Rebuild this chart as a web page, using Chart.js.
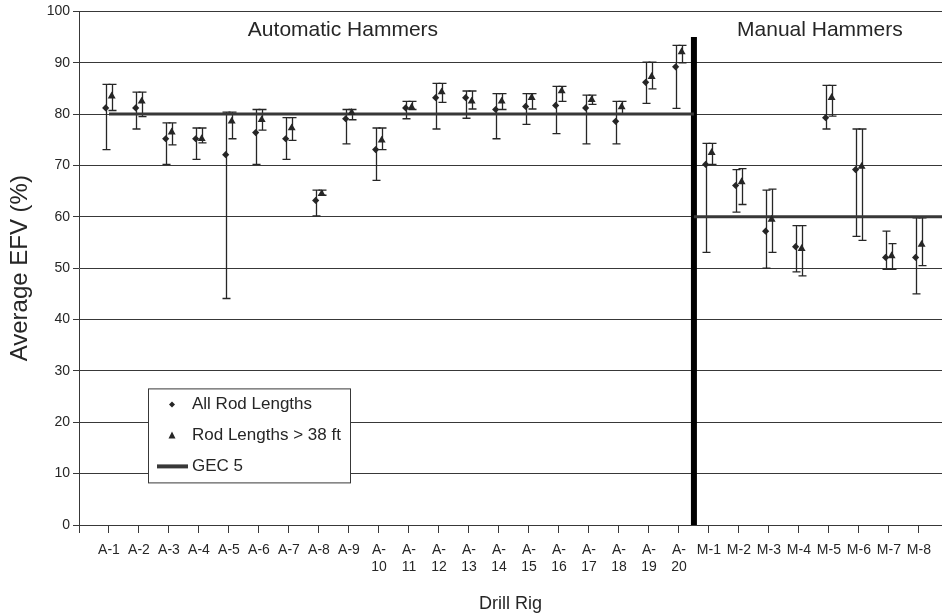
<!DOCTYPE html>
<html lang="en">
<head>
<meta charset="UTF-8">
<title>Average EFV by Drill Rig</title>
<script src="https://cdn.jsdelivr.net/npm/chart.js"></script>
<style>
  html, body { margin: 0; padding: 0; background: #fff; overflow: hidden; }
  #wrap { width: 942px; height: 615px; }
</style>
</head>
<body>
<div id="wrap"><canvas id="efvChart"></canvas></div>
<script>
// drill rigs, automatic hammers first, then manual
const rigs = ['A-1', 'A-2', 'A-3', 'A-4', 'A-5', 'A-6', 'A-7', 'A-8', 'A-9', 'A-10',
  'A-11', 'A-12', 'A-13', 'A-14', 'A-15', 'A-16', 'A-17', 'A-18', 'A-19', 'A-20',
  'M-1', 'M-2', 'M-3', 'M-4', 'M-5', 'M-6', 'M-7', 'M-8'];

// all rod lengths: mean EFV with high / low range
const allRodMean = [81.2, 81.2, 75.2, 75.2, 72.1, 76.4, 75.2, 63.2, 79.1, 73.1,
  81.2, 83.2, 83.2, 80.9, 81.5, 81.7, 81.2, 78.6, 86.2, 89.2,
  70.2, 66.1, 57.2, 54.2, 79.3, 69.2, 52.1, 52.1];
const allRodHigh = [85.8, 84.3, 78.3, 77.3, 80.4, 80.9, 79.3, 65.2, 80.9, 77.3,
  82.5, 86.0, 84.5, 84.0, 84.0, 85.4, 83.7, 82.5, 90.1, 93.4,
  74.3, 69.2, 65.2, 58.3, 85.6, 77.1, 57.2, 59.8];
const allRodLow = [73.1, 77.1, 70.2, 71.2, 44.1, 70.2, 71.2, 60.2, 74.2, 67.1,
  79.1, 77.1, 79.2, 75.2, 78.0, 76.2, 74.2, 74.2, 82.1, 81.1,
  53.1, 60.9, 50.0, 49.3, 77.1, 56.2, 49.8, 45.0];

// rod lengths > 38 ft
const longRodMean = [83.5, 82.5, 76.5, 75.2, 78.6, 78.9, 77.3, 64.5, 80.3, 74.9,
  81.3, 84.3, 82.5, 82.5, 83.2, 84.5, 82.8, 81.4, 87.3, 92.1,
  72.5, 66.8, 59.5, 53.8, 83.2, 69.8, 52.4, 54.6];
const longRodHigh = [85.8, 84.3, 78.3, 77.3, 80.4, 80.9, 79.3, 65.2, 80.9, 77.3,
  82.5, 86.0, 84.5, 84.0, 84.0, 85.4, 83.7, 82.5, 90.1, 93.4,
  74.3, 69.4, 65.4, 58.3, 85.6, 77.1, 54.8, 59.8];
const longRodLow = [80.7, 79.5, 74.0, 74.4, 75.2, 76.9, 74.9, 64.2, 78.9, 73.1,
  80.9, 82.3, 81.0, 80.9, 81.0, 82.5, 81.9, 80.1, 84.9, 90.0,
  70.2, 62.4, 53.1, 48.5, 79.6, 55.4, 49.8, 50.5];

// GEC 5 reference level for each hammer type
const gecAutomatic = 80;
const gecManual = 60;

const yTicks = [0, 10, 20, 30, 40, 50, 60, 70, 80, 90, 100];

const FONT = "'Liberation Sans', Arial, sans-serif";
const INK = '#262626';
const LINE = '#383838';
const X_MAX = 28.77;
const DOT_DX = -0.11;
const TRI_DX = 0.09;
const nAuto = rigs.filter(r => r.startsWith('A')).length;
const split = nAuto + 0.5;

const pts = (vals, dx) => vals.map((v, i) => ({ x: i + 1 + dx, y: v }));

// whiskers with caps, drawn under the markers
const errorBars = {
  id: 'errorBars',
  beforeDatasetsDraw(chart) {
    const { ctx, scales: { x, y } } = chart;
    ctx.save();
    ctx.strokeStyle = INK;
    ctx.lineWidth = 1.3;
    [[allRodHigh, allRodLow, DOT_DX], [longRodHigh, longRodLow, TRI_DX]].forEach(([hi, lo, dx]) => {
      hi.forEach((h, i) => {
        const px = Math.round(x.getPixelForValue(i + 1 + dx)) + 0.5;
        const top = y.getPixelForValue(h);
        const bot = y.getPixelForValue(lo[i]);
        ctx.beginPath();
        ctx.moveTo(px, top); ctx.lineTo(px, bot);
        ctx.moveTo(px - 4, top); ctx.lineTo(px + 4, top);
        ctx.moveTo(px - 4, bot); ctx.lineTo(px + 4, bot);
        ctx.stroke();
      });
    });
    ctx.restore();
  }
};

// group headings and the boxed legend
const annotations = {
  id: 'annotations',
  afterDraw(chart) {
    const { ctx, chartArea: ca, scales: { x, y } } = chart;
    const ds = chart.data.datasets;
    ctx.save();
    ctx.fillStyle = INK;
    ctx.textBaseline = 'middle';
    ctx.textAlign = 'center';
    ctx.font = '21px ' + FONT;
    ctx.fillText('Automatic Hammers', x.getPixelForValue(8.8), y.getPixelForValue(96.3));
    ctx.fillText('Manual Hammers', x.getPixelForValue(24.7), y.getPixelForValue(96.3));

    const bx = ca.left + 69, by = ca.top + 377, bw = 202, bh = 94;
    ctx.fillStyle = '#fff';
    ctx.fillRect(bx, by, bw, bh);
    ctx.strokeStyle = LINE;
    ctx.lineWidth = 1;
    ctx.strokeRect(bx + 0.5, by + 0.5, bw, bh);

    const mx = bx + 24, tx = bx + 44;
    const rows = [by + 16, by + 47, by + 78];
    ctx.fillStyle = INK;
    // diamond
    ctx.beginPath();
    ctx.moveTo(mx, rows[0] - 3); ctx.lineTo(mx + 3, rows[0]);
    ctx.lineTo(mx, rows[0] + 3); ctx.lineTo(mx - 3, rows[0]);
    ctx.closePath(); ctx.fill();
    // triangle
    ctx.beginPath();
    ctx.moveTo(mx, rows[1] - 4); ctx.lineTo(mx + 3.5, rows[1] + 3);
    ctx.lineTo(mx - 3.5, rows[1] + 3);
    ctx.closePath(); ctx.fill();
    // line
    ctx.strokeStyle = LINE;
    ctx.lineWidth = 4;
    ctx.beginPath();
    ctx.moveTo(bx + 9, rows[2]); ctx.lineTo(bx + 40, rows[2]);
    ctx.stroke();

    ctx.textAlign = 'left';
    ctx.font = '17px ' + FONT;
    ctx.fillText(ds[0].label, tx, rows[0]);
    ctx.fillText(ds[1].label, tx, rows[1]);
    ctx.fillText(ds[2].label, tx, rows[2]);
    ctx.restore();
  }
};

new Chart(document.getElementById('efvChart'), {
  type: 'scatter',
  data: {
    datasets: [
      {
        label: 'All Rod Lengths',
        data: pts(allRodMean, DOT_DX),
        pointStyle: 'rectRot',
        pointRadius: 3.6,
        backgroundColor: INK,
        borderColor: INK,
        borderWidth: 0
      },
      {
        label: 'Rod Lengths > 38 ft',
        data: pts(longRodMean, TRI_DX),
        pointStyle: 'triangle',
        pointRadius: 4.6,
        backgroundColor: INK,
        borderColor: INK,
        borderWidth: 0
      },
      {
        label: 'GEC 5',
        data: [
          { x: 1, y: gecAutomatic }, { x: split, y: gecAutomatic },
          { x: split, y: null },
          { x: split, y: gecManual }, { x: X_MAX, y: gecManual }
        ],
        showLine: true,
        spanGaps: false,
        borderColor: LINE,
        borderWidth: 3,
        pointRadius: 0
      },
      {
        label: 'Hammer type divider',
        data: [{ x: split, y: 0 }, { x: split, y: 95 }],
        showLine: true,
        borderColor: '#000',
        borderWidth: 6,
        pointRadius: 0
      }
    ]
  },
  options: {
    responsive: true,
    maintainAspectRatio: false,
    animation: false,
    layout: { autoPadding: false, padding: { top: 11, right: 0, bottom: 0, left: 0 } },
    plugins: { legend: { display: false }, tooltip: { enabled: false } },
    scales: {
      x: {
        type: 'linear',
        min: 0,
        max: X_MAX,
        afterBuildTicks(s) {
          s.ticks = [{ value: 0 }].concat(rigs.map((r, i) => ({ value: i + 1 })));
        },
        ticks: {
          autoSkip: false,
          maxRotation: 0,
          minRotation: 0,
          color: INK,
          padding: 9,
          font: { family: FONT, size: 14 },
          callback(v) {
            const r = rigs[v - 1];
            if (!r) return '';
            return /^A-\d\d$/.test(r) ? ['A-', r.slice(2)] : r;
          }
        },
        grid: { drawOnChartArea: false, tickLength: 8, tickColor: LINE },
        border: { color: LINE, width: 1 },
        title: {
          display: true,
          text: 'Drill Rig',
          color: INK,
          font: { family: FONT, size: 18 },
          padding: { top: 0, bottom: 0 }
        },
        // gridlines run to the right edge of the canvas
        afterFit(s) { s.height = 90; s.paddingLeft = 0; s.paddingRight = 0; }
      },
      y: {
        min: 0,
        max: 100,
        afterBuildTicks(s) { s.ticks = yTicks.map(v => ({ value: v })); },
        ticks: { color: INK, padding: 3, font: { family: FONT, size: 14 } },
        grid: { color: LINE, lineWidth: 1, tickLength: 6, tickColor: LINE },
        border: { color: LINE, width: 1 },
        title: {
          display: true,
          text: 'Average EFV (%)',
          color: INK,
          font: { family: FONT, size: 24 },
          padding: { top: 6, bottom: 0 }
        },
        afterFit(s) { s.width = 79; }
      }
    }
  },
  plugins: [errorBars, annotations]
});
</script>
</body>
</html>
